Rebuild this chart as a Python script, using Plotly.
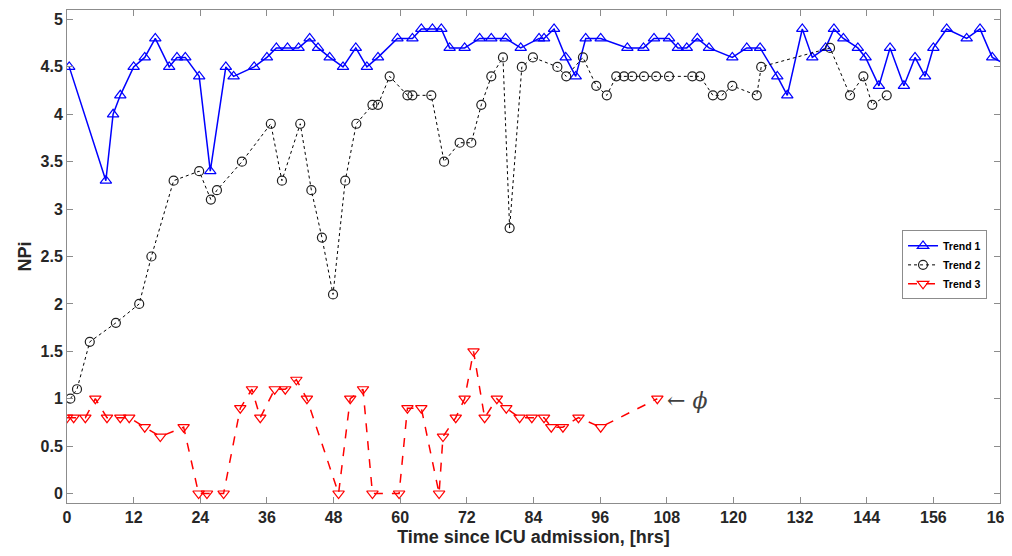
import plotly.graph_objects as go

# Trend 1 (blue)
t1 = [0.4, 7, 8.3, 9.6, 12, 14, 15.9, 18.4, 19.8, 21.3, 23.8, 25.8, 28.6, 30, 33.7, 36, 37.7, 39.7, 41.7, 43.7,
      45.2, 47.3, 49.7, 52, 54, 56, 59.5, 62.2, 63.8, 65.8, 67.4, 68.9, 71.6, 74.3, 76.4, 79, 81.7, 85, 85.9, 87.7,
      89.8, 91.6, 93.4, 96.1, 100.9, 103.8, 105.7, 108.4, 110, 111.6, 113.5, 115.6, 119.8, 122.4, 124.8, 127.9,
      129.7, 132.4, 134.2, 136.6, 138.1, 139.8, 142.4, 143.8, 146.2, 148.2, 150.7, 152.7, 154.5, 156, 158.4, 162,
      164.4, 166.6, 170]
v1 = [4.5, 3.3, 4.0, 4.2, 4.5, 4.6, 4.8, 4.5, 4.6, 4.6, 4.4, 3.4, 4.5, 4.4, 4.5, 4.6, 4.7, 4.7, 4.7, 4.8,
      4.7, 4.6, 4.5, 4.7, 4.5, 4.6, 4.8, 4.8, 4.9, 4.9, 4.9, 4.7, 4.7, 4.8, 4.8, 4.8, 4.7, 4.8, 4.8, 4.9,
      4.6, 4.4, 4.8, 4.8, 4.7, 4.7, 4.8, 4.8, 4.7, 4.7, 4.8, 4.7, 4.6, 4.7, 4.7, 4.4,
      4.2, 4.9, 4.6, 4.7, 4.9, 4.8, 4.7, 4.6, 4.3, 4.7, 4.3, 4.6, 4.4, 4.7, 4.9, 4.8,
      4.9, 4.6, 4.5]

# Trend 2 (black)
t2 = [0.6, 1.8, 4.1, 8.8, 13, 15.2, 19.2, 23.8, 25.9, 27, 31.5, 36.7, 38.7, 42, 44, 45.9, 47.9, 50.1, 52.1, 55,
      56, 58.1, 61.3, 62.2, 65.6, 67.9, 70.7, 72.8, 74.6, 76.4, 78.5, 79.7, 81.9, 83.9, 88.3, 89.9, 92.9, 95.3,
      97.2, 98.9, 100.3, 101.8, 103.9, 106.1, 108.4, 112.6, 114, 116.3, 117.9, 119.8, 124.2, 125, 137.4, 141,
      143.4, 145, 147.6]
v2 = [1.0, 1.1, 1.6, 1.8, 2.0, 2.5, 3.3, 3.4, 3.1, 3.2, 3.5, 3.9, 3.3, 3.9, 3.2, 2.7, 2.1, 3.3, 3.9, 4.1,
      4.1, 4.4, 4.2, 4.2, 4.2, 3.5, 3.7, 3.7, 4.1, 4.4, 4.6, 2.8, 4.5, 4.6, 4.5, 4.4, 4.6, 4.3,
      4.2, 4.4, 4.4, 4.4, 4.4, 4.4, 4.4, 4.4, 4.4, 4.2, 4.2, 4.3, 4.2, 4.5, 4.7, 4.2,
      4.4, 4.1, 4.2]

# Trend 3 (red)
t3 = [0, 1.2, 3.3, 5.1, 7.2, 9.6, 11.2, 14, 16.8, 21, 23.7, 25.2, 28.2, 31.2, 33.3, 34.8, 37.4, 39.3, 41.3, 43.2,
      48.9, 51, 53.3, 55, 59.8, 61.3, 63.8, 67, 67.7, 70, 71.6, 73.2, 75.2, 77.4, 79.1, 81.5, 83.7, 85.9, 87.2,
      89.3, 92.1, 96.1, 106.3]
v3 = [0.8, 0.8, 0.8, 1.0, 0.8, 0.8, 0.8, 0.7, 0.6, 0.7, 0, 0, 0, 0.9, 1.1, 0.8, 1.1, 1.1, 1.2, 1.0,
      0, 1.0, 1.1, 0, 0, 0.9, 0.9, 0, 0.6, 0.8, 1.0, 1.5, 0.8, 1.0, 0.9, 0.8, 0.8, 0.8, 0.7,
      0.7, 0.8, 0.7, 1.0]

x_ticks = list(range(0, 169, 12))
y_ticks = [0, 0.5, 1, 1.5, 2, 2.5, 3, 3.5, 4, 4.5, 5]
y_tick_labels = ["0", "0.5", "1", "1.5", "2", "2.5", "3", "3.5", "4", "4.5", "5"]

FONT = "Liberation Sans, Arial, sans-serif"
TXT = "#262626"
AX = "#8c8c8c"

fig = go.Figure()
fig.add_trace(go.Scatter(
    x=t1, y=v1, name="<b>Trend 1</b>", mode="lines+markers",
    line=dict(color="#0000ff", width=1.5),
    marker=dict(symbol="triangle-up-open", size=10, color="#0000ff", line=dict(width=1.2))))
fig.add_trace(go.Scatter(
    x=t2, y=v2, name="<b>Trend 2</b>", mode="lines+markers",
    line=dict(color="#000000", width=1, dash="dot"),
    marker=dict(symbol="circle-open", size=9, color="#202020", line=dict(width=1.2))))
fig.add_trace(go.Scatter(
    x=t3, y=v3, name="<b>Trend 3</b>", mode="lines+markers",
    line=dict(color="#ff0000", width=1.5, dash="dash"),
    marker=dict(symbol="triangle-down-open", size=10, color="#ff0000", line=dict(width=1.2))))

fig.add_annotation(x=t3[-1], y=v3[-1], xref="x", yref="y", text="\u2190 <i>\u03d5</i>",
                   showarrow=False, xanchor="left", xshift=8, yshift=-2,
                   font=dict(family="DejaVu Serif, serif", size=22, color="#404040"))

# the page body adds an 8px offset, so the figure is sized/margined to land the axes where the reference has them
fig.update_layout(
    width=1004, height=548,
    margin=dict(l=59, r=12, t=2, b=53, autoexpand=False),
    paper_bgcolor="white", plot_bgcolor="white",
    font=dict(family=FONT, color=TXT, size=14),
    showlegend=True,
    legend=dict(x=0.895, y=0.553, xanchor="left", yanchor="top",
                bordercolor="#8c8c8c", borderwidth=1, bgcolor="white",
                font=dict(family=FONT, size=10.5, color="#000000"),
                itemwidth=30, tracegroupgap=0),
)
fig.update_xaxes(
    range=[0, 168], tickvals=x_ticks, ticktext=[f"<b>{v}</b>" for v in x_ticks],
    ticks="inside", ticklen=6, tickcolor=AX, showline=True, linecolor=AX, linewidth=1,
    mirror="ticks", showgrid=False, zeroline=False, automargin=False,
    ticklabeloverflow="allow",
    tickfont=dict(family=FONT, size=16, color=TXT),
    title=dict(text="<b>Time since ICU admission, [hrs]</b>", font=dict(family=FONT, size=18, color=TXT), standoff=5))
fig.update_yaxes(
    range=[-0.1, 5.1], tickvals=y_ticks, ticktext=[f"<b>{v}</b>" for v in y_tick_labels],
    ticks="inside", ticklen=6, tickcolor=AX, showline=True, linecolor=AX, linewidth=1,
    mirror="ticks", showgrid=False, zeroline=False, automargin=False,
    tickfont=dict(family=FONT, size=16, color=TXT),
    title=dict(text="<b>NPi</b>", font=dict(family=FONT, size=18, color=TXT), standoff=4))

fig.write_html("out.html")
